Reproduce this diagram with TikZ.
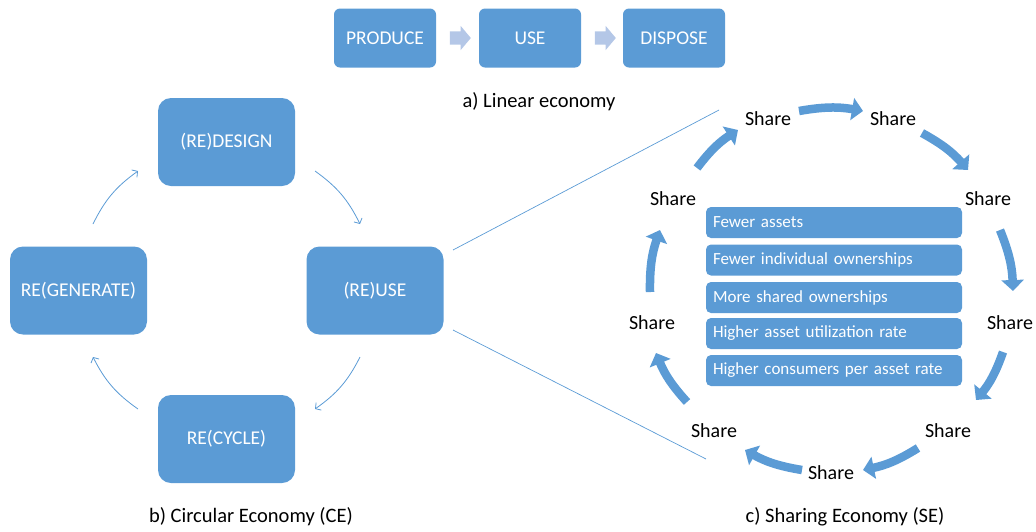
\documentclass[tikz,border=0pt]{standalone}
\usepackage{fontspec}
\setmainfont{Carlito}
\usetikzlibrary{arrows.meta,shapes.arrows}

\definecolor{boxblue}{HTML}{5B9BD5}
\definecolor{paleblue}{HTML}{B4C7E7}

\tikzstyle{linbox}=[rectangle, fill=boxblue, text=white, inner sep=0pt,
                    rounded corners=6pt, minimum width=102pt, minimum height=59pt,
                    font=\fontsize{19.5}{23}\selectfont]
\tikzstyle{cebox}=[linbox, rounded corners=13pt,
                   minimum width=137pt, minimum height=88pt]
\tikzstyle{asset}=[rectangle, fill=boxblue, text=white, rounded corners=5pt,
                   inner xsep=7pt, inner ysep=0pt, text width=242pt, align=left,
                   minimum height=31pt, font=\fontsize{17}{20}\selectfont]
\tikzstyle{sharetext}=[inner sep=2pt, font=\fontsize{20}{24}\selectfont]
\tikzstyle{caption}=[inner sep=2pt, font=\fontsize{20.5}{24}\selectfont]
\tikzstyle{flow}=[single arrow, fill=paleblue, minimum height=21pt,
                  inner sep=6.5pt, single arrow head extend=5.5pt,
                  single arrow tip angle=100]
\tikzstyle{cycle}=[-{Straight Barb[length=4pt,width=9pt]}, draw=boxblue,
                   line width=0.8pt]
\tikzstyle{sharearrow}=[-{Triangle[length=11pt,width=22pt]}, draw=boxblue,
                        line width=8.5pt]
\tikzstyle{zoomline}=[draw=boxblue, line width=0.7pt]

\begin{document}
\begin{tikzpicture}[x=1pt, y=-1pt]

  \useasboundingbox (0, 0) rectangle (1036, 531);

  %%%%%%%%%%%%%%%%%%%%%%%%%%%%%%
  %%%%%%%%%%%%%%%%%%%%%%%%%%%%%%
  % linear economy

  \node (produce) at (385, 38) [linbox] {PRODUCE};

  \node (use) at (530, 38) [linbox] {USE};

  \node (dispose) at (674, 38) [linbox] {DISPOSE};

  \node (flow_a) at (457.5, 38) [flow] {};
  \node (flow_b) at (602.5, 38) [flow] {};

  \node (cap_a) at (539, 102) [caption] {a) Linear economy};

  %%%%%%%%%%%%%%%%%%%%%%%%%%%%%%
  % circular economy

  \node (redesign) at (226.5, 142) [cebox] {(RE)DESIGN};

  \node (reuse) at (375, 290.5) [cebox] {(RE)USE};

  \node (recycle) at (226.5, 439) [cebox] {RE(CYCLE)};

  \node (regenerate) at (78.5, 290.5) [cebox] {RE(GENERATE)};

  \node (cap_b) at (251, 517) [caption] {b) Circular Economy (CE)};

  % arrow ends
  \coordinate (ce1s) at (315, 171);
  \coordinate (ce1e) at (360, 224);
  \coordinate (ce2s) at (360, 357);
  \coordinate (ce2e) at (315, 409);
  \coordinate (ce3s) at (138, 409);
  \coordinate (ce3e) at (93, 357);
  \coordinate (ce4s) at (93, 224);
  \coordinate (ce4e) at (138, 171);

  %%%%%%%%%%%%%%%%%%%%%%%%%%%%%%
  % sharing economy

  \node (share1) at (768, 119) [sharetext] {Share};
  \node (share2) at (893, 119) [sharetext] {Share};
  \node (share3) at (988, 199) [sharetext] {Share};
  \node (share4) at (1010, 323) [sharetext] {Share};
  \node (share5) at (948, 431) [sharetext] {Share};
  \node (share6) at (831, 473) [sharetext] {Share};
  \node (share7) at (714, 431) [sharetext] {Share};
  \node (share8) at (652, 323) [sharetext] {Share};
  \node (share9) at (673, 199) [sharetext] {Share};

  \node (asset1) at (834, 222.5) [asset] {Fewer assets};
  \node (asset2) at (834, 260) [asset] {Fewer individual ownerships};
  \node (asset3) at (834, 297.5) [asset] {More shared ownerships};
  \node (asset4) at (834, 333.5) [asset] {Higher asset utilization rate};
  \node (asset5) at (834, 370.5) [asset] {Higher consumers per asset rate};

  \node (cap_c) at (845, 517) [caption] {c) Sharing Economy (SE)};

  % arrow ends
  \coordinate (se1s) at (799, 111);
  \coordinate (se1e) at (863, 111);
  \coordinate (se2s) at (922, 133);
  \coordinate (se2e) at (968, 170);
  \coordinate (se3s) at (1000, 230);
  \coordinate (se3e) at (1013, 291);
  \coordinate (se4s) at (1003, 352);
  \coordinate (se4e) at (976, 400);
  \coordinate (se5s) at (918, 448);
  \coordinate (se5e) at (863, 470);
  \coordinate (se6s) at (802, 470);
  \coordinate (se6e) at (745, 450);
  \coordinate (se7s) at (687, 402);
  \coordinate (se7e) at (656, 353);
  \coordinate (se8s) at (650, 292);
  \coordinate (se8e) at (660, 230);
  \coordinate (se9s) at (697, 168);
  \coordinate (se9e) at (738, 130);

  % zoom
  \coordinate (zoom_a) at (453, 250);
  \coordinate (zoom_b) at (453, 330);
  \coordinate (zoom_top) at (719, 110);
  \coordinate (zoom_bot) at (706, 459);

  %%%%%%%%%%%%%%%%%%%%%%%%%%%%%%
  % links
  % circular
  \draw [cycle] (ce1s) to [bend left=14] (ce1e);

  \draw [cycle] (ce2s) to [bend left=14] (ce2e);

  \draw [cycle] (ce3s) to [bend left=14] (ce3e);

  \draw [cycle] (ce4s) to [bend left=14] (ce4e);

  % sharing
  \draw [sharearrow] (se1s) to [bend left=10] (se1e);
  \draw [sharearrow] (se2s) to [bend left=10] (se2e);
  \draw [sharearrow] (se3s) to [bend left=10] (se3e);
  \draw [sharearrow] (se4s) to [bend left=10] (se4e);
  \draw [sharearrow] (se5s) to [bend left=10] (se5e);
  \draw [sharearrow] (se6s) to [bend left=10] (se6e);
  \draw [sharearrow] (se7s) to [bend left=10] (se7e);
  \draw [sharearrow] (se8s) to [bend left=10] (se8e);
  \draw [sharearrow] (se9s) to [bend left=10] (se9e);

  % zoom lines
  \draw [zoomline] (zoom_a) -- (zoom_top);
  \draw [zoomline] (zoom_b) -- (zoom_bot);

\end{tikzpicture}
\end{document}
